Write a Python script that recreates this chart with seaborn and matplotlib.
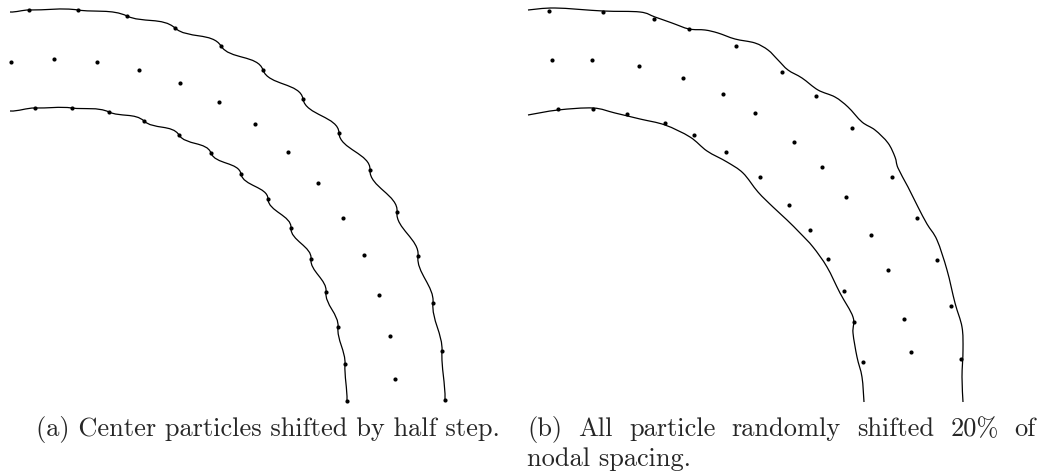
import numpy as np
import pandas as pd
import matplotlib.pyplot as plt
from matplotlib.path import Path
from matplotlib.patches import PathPatch
import seaborn as sns

# all positions, in pixels (y grows downward)

# panel (a): three rows of particles, centre row shifted by half a step
a_outer_x = [29, 78, 127, 175, 221, 263, 303, 339, 370, 397, 418, 433, 442, 445]
a_outer_y = [10, 10, 16, 28, 46, 70, 99, 133, 170, 212, 256, 303, 351, 400]
a_mid_x = [11, 54, 97, 139, 180, 219, 255, 288, 318, 343, 364, 379, 390, 395]
a_mid_y = [62, 59, 62, 70, 83, 102, 124, 152, 183, 218, 255, 295, 336, 379]
a_inner_x = [35, 72, 109, 144, 179, 211, 241, 268, 291, 311, 326, 338, 345, 347]
a_inner_y = [108, 108, 112, 121, 135, 153, 174, 199, 228, 259, 292, 327, 364, 401]
# the boundary lines start a little left of the first particle
a_outer_start = (10, 12)
a_inner_start = (10, 111)

# panel (b): randomly shifted particles
b_outer_x = [549, 603, 654, 689, 736, 782, 816, 852, 892, 917, 937, 951, 961]
b_outer_y = [11, 12, 19, 29, 46, 72, 96, 128, 177, 218, 260, 306, 359]
b_mid_x = [552, 592, 639, 683, 723, 755, 794, 822, 846, 871, 888, 904, 911]
b_mid_y = [60, 60, 66, 78, 94, 113, 142, 167, 197, 235, 270, 319, 352]
b_inner_x = [558, 593, 627, 665, 694, 726, 760, 789, 810, 828, 844, 854, 863]
b_inner_y = [109, 109, 114, 123, 135, 152, 177, 205, 230, 259, 291, 322, 362]

# panel (b) boundary lines
b_outer_line_x = [528, 555, 603, 640, 655, 672, 689, 705, 718, 735, 755, 768, 778, 788, 802,
                  818, 835, 848, 862, 875, 888, 895, 898, 908, 918, 927, 937, 947, 955, 962,
                  963, 962, 963]
b_outer_line_y = [10, 8, 11, 12, 17, 23, 29, 30, 33, 39, 43, 50, 60, 70, 78,
                  90, 97, 107, 122, 130, 143, 157, 168, 187, 207, 224, 240, 270, 303, 327,
                  350, 377, 402]
b_inner_line_x = [528, 558, 593, 615, 640, 665, 690, 707, 727, 743, 758, 773, 787, 800, 813,
                  827, 840, 853, 853, 857, 862, 864]
b_inner_line_y = [115, 110, 108, 113, 119, 125, 137, 151, 162, 173, 192, 207, 220, 233, 247,
                  267, 293, 317, 333, 357, 377, 402]

caption_a = "(a) Center particles shifted by half step."
caption_b1 = ["(b)", "All", "particle", "randomly", "shifted", "20%", "of"]
caption_b2 = "nodal spacing."

W, H, DPI = 1052, 476, 100
TILT = np.deg2rad(42)  # max lean of the node tangents off the curve in (a)


def rotate(v, a):
    c, s = np.cos(a), np.sin(a)
    return np.array([v[0] * c - v[1] * s, v[0] * s + v[1] * c])


def wavy_path(xs, ys):
    # cubic pieces with node tangents tilted, gives the wiggle between nodes;
    # the wiggle is strongest where the curve runs diagonally
    p = np.column_stack([xs, ys]).astype(float)
    n = len(p)
    tang = []
    for i in range(n):
        d = p[min(i + 1, n - 1)] - p[max(i - 1, 0)]
        d = d / np.linalg.norm(d)
        phi = np.arctan2(d[1], d[0])
        tang.append(rotate(d, TILT * abs(np.sin(2 * phi))))
    verts, codes = [p[0]], [Path.MOVETO]
    for i in range(n - 1):
        L = np.linalg.norm(p[i + 1] - p[i])
        verts += [p[i] + tang[i] * L / 3, p[i + 1] - tang[i + 1] * L / 3, p[i + 1]]
        codes += [Path.CURVE4] * 3
    return Path(verts, codes)


def smooth_path(xs, ys):
    # catmull-rom through the read vertices
    p = np.column_stack([xs, ys]).astype(float)
    n = len(p)
    verts, codes = [p[0]], [Path.MOVETO]
    for i in range(n - 1):
        p0 = p[max(i - 1, 0)]
        p3 = p[min(i + 2, n - 1)]
        verts += [p[i] + (p[i + 1] - p0) / 6, p[i + 1] - (p3 - p[i]) / 6, p[i + 1]]
        codes += [Path.CURVE4] * 3
    return Path(verts, codes)


def dots(ax, xs, ys):
    df = pd.DataFrame({"x": xs, "y": ys})
    sns.scatterplot(data=df, x="x", y="y", ax=ax, color="black", s=9,
                    linewidth=0, legend=False)


sns.set_style("white")
fig = plt.figure(figsize=(W / DPI, H / DPI), dpi=DPI)

# axes placed so one data unit is one pixel
def panel(x0, x1, y1):
    ax = fig.add_axes([x0 / W, 1 - y1 / H, (x1 - x0) / W, y1 / H])
    ax.set_xlim(x0, x1)
    ax.set_ylim(y1, 0)
    ax.set_axis_off()
    return ax

ax_a = panel(0, 480, 412)
ax_b = panel(505, 985, 412)

# panel (a)
for xs, ys, start in [(a_outer_x, a_outer_y, a_outer_start),
                      (a_inner_x, a_inner_y, a_inner_start)]:
    path = wavy_path([start[0]] + xs, [start[1]] + ys)
    ax_a.add_patch(PathPatch(path, fill=False, lw=0.9, color="black"))
for xs, ys in [(a_outer_x, a_outer_y), (a_mid_x, a_mid_y), (a_inner_x, a_inner_y)]:
    dots(ax_a, xs, ys)

# panel (b)
for xs, ys in [(b_outer_line_x, b_outer_line_y), (b_inner_line_x, b_inner_line_y)]:
    ax_b.add_patch(PathPatch(smooth_path(xs, ys), fill=False, lw=0.9, color="black"))
for xs, ys in [(b_outer_x, b_outer_y), (b_mid_x, b_mid_y), (b_inner_x, b_inner_y)]:
    dots(ax_b, xs, ys)

for ax in (ax_a, ax_b):
    ax.set_xlabel("")
    ax.set_ylabel("")

# captions
font = dict(family=["cmr10", "DejaVu Serif"], size=19)
fig.text(268 / W, 1 - 436 / H, caption_a, ha="center", va="baseline", **font)

# first line of (b) is justified between two edges
left, right = 527, 1036
words = [fig.text(0, 1 - 436 / H, w, ha="left", va="baseline", **font) for w in caption_b1]
fig.canvas.draw()
r = fig.canvas.get_renderer()
widths = [t.get_window_extent(r).width for t in words]
gap = (right - left - sum(widths)) / (len(words) - 1)
x = left
for t, w in zip(words, widths):
    t.set_x(x / W)
    x += w + gap
fig.text(left / W, 1 - 466 / H, caption_b2, ha="left", va="baseline", **font)

fig.savefig("out.png", dpi=DPI)
